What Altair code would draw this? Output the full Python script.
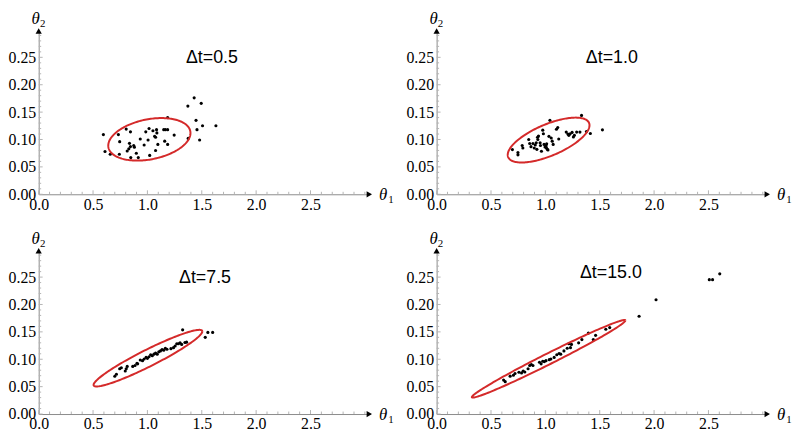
import altair as alt
import numpy as np
import pandas as pd

titles = ["Δt=0.5", "Δt=1.0", "Δt=7.5", "Δt=15.0"]

p1_x = [0.595, 0.61, 0.658, 0.733, 0.745, 0.742, 0.805, 0.844, 0.835, 0.844,
        0.829, 0.814, 0.874, 0.88, 0.847, 0.898, 0.916, 0.934, 0.97, 0.985,
        1.006, 1.015, 1.021, 1.051, 1.066, 1.075, 1.084, 1.087, 1.075, 1.096,
        1.15, 1.165, 1.186, 1.186, 1.159, 1.186, 1.246, 1.372, 1.43, 1.495,
        1.447, 1.456, 1.507, 1.48, 1.63, 1.375]
p1_y = [0.109, 0.078, 0.073, 0.109, 0.096, 0.073, 0.119, 0.114, 0.093, 0.087,
        0.083, 0.079, 0.089, 0.086, 0.067, 0.075, 0.067, 0.101, 0.09, 0.114,
        0.099, 0.12, 0.071, 0.116, 0.106, 0.08, 0.118, 0.112, 0.104, 0.091,
        0.118, 0.118, 0.118, 0.14, 0.097, 0.091, 0.108, 0.161, 0.176, 0.166,
        0.135, 0.118, 0.125, 0.099, 0.125, 0.102]

p2_x = [0.697, 0.748, 0.748, 0.787, 0.793, 0.847, 0.856, 0.868, 0.886, 0.898,
        0.907, 0.916, 0.922, 0.928, 0.931, 0.937, 0.952, 0.955, 0.964, 0.976,
        0.982, 0.988, 0.997, 1.006, 1.009, 1.012, 1.018, 1.024, 1.033, 1.042,
        1.054, 1.063, 1.072, 1.102, 1.114, 1.123, 1.192, 1.207, 1.216, 1.228,
        1.246, 1.258, 1.267, 1.288, 1.318, 1.333, 1.378, 1.414, 1.525]
p2_y = [0.0816, 0.0762, 0.072, 0.089, 0.0845, 0.0999, 0.0928, 0.0869, 0.0928, 0.0845,
        0.0899, 0.094, 0.082, 0.104, 0.0999, 0.1064, 0.094, 0.089, 0.0786, 0.117,
        0.1105, 0.091, 0.0863, 0.089, 0.0851, 0.0922, 0.082, 0.081, 0.1058, 0.135,
        0.1028, 0.097, 0.091, 0.1188, 0.1218, 0.101, 0.1135, 0.11, 0.1076, 0.1105,
        0.113, 0.1046, 0.1076, 0.1135, 0.1135, 0.144, 0.1147, 0.111, 0.1176]

p3_x = [0.70, 0.715, 0.745, 0.76, 0.796, 0.805, 0.814, 0.865, 0.886, 0.904,
        0.91, 0.934, 0.955, 0.97, 0.988, 1.0, 1.015, 1.03, 1.045, 1.06,
        1.075, 1.09, 1.105, 1.12, 1.135, 1.15, 1.165, 1.18, 1.216, 1.24,
        1.255, 1.27, 1.285, 1.30, 1.315, 1.324, 1.345, 1.36, 1.532, 1.556, 1.60]
p3_y = [0.069, 0.0727, 0.0827, 0.0845, 0.0786, 0.0827, 0.0869, 0.0869, 0.0887, 0.0928,
        0.0916, 0.0987, 0.0975, 0.1005, 0.1034, 0.1017, 0.1046, 0.1082, 0.1064, 0.1093,
        0.1111, 0.1093, 0.1135, 0.1152, 0.1176, 0.1164, 0.12, 0.1182, 0.1194, 0.1212,
        0.1241, 0.1283, 0.1283, 0.13, 0.1271, 0.1537, 0.1306, 0.1312, 0.14, 0.149, 0.149]

p4_x = [0.616, 0.631, 0.676, 0.706, 0.721, 0.757, 0.781, 0.796, 0.811, 0.841,
        0.856, 0.871, 0.886, 0.946, 0.961, 0.976, 0.991, 1.006, 1.036, 1.051,
        1.081, 1.105, 1.126, 1.141, 1.171, 1.201, 1.216, 1.231, 1.24, 1.306,
        1.336, 1.396, 1.441, 1.462, 1.556, 1.592, 1.862, 2.018, 2.508, 2.538, 2.604]
p4_y = [0.062, 0.0591, 0.0691, 0.0709, 0.0739, 0.0762, 0.0751, 0.0786, 0.0768, 0.0827,
        0.0887, 0.0904, 0.0887, 0.0946, 0.0916, 0.0963, 0.0957, 0.0975, 0.0993, 0.1005,
        0.1034, 0.1082, 0.1105, 0.1093, 0.1152, 0.12, 0.1283, 0.1212, 0.1271, 0.13,
        0.1359, 0.1478, 0.1359, 0.1436, 0.1548, 0.1578, 0.1785, 0.2086, 0.2453, 0.2453, 0.2559]

# confidence ellipse parameters per panel: centre and lower-triangular shape
ell_cx = [1.018, 1.03, 1.005, 1.03]
ell_cy = [0.1003, 0.099, 0.102, 0.1008]
ell_l11 = [0.378, 0.376, 0.50, 0.706]
ell_l21 = [0.0114, 0.027, 0.0488, 0.070]
ell_l22 = [0.0371, 0.0308, 0.017, 0.011]

x_major = [0.0, 0.5, 1.0, 1.5, 2.0, 2.5]
y_major = [0.0, 0.05, 0.10, 0.15, 0.20, 0.25]
x_minor = [0.1, 0.2, 0.3, 0.4, 0.6, 0.7, 0.8, 0.9, 1.1, 1.2, 1.3, 1.4, 1.6, 1.7, 1.8, 1.9,
           2.1, 2.2, 2.3, 2.4, 2.6, 2.7, 2.8, 2.9, 3.0]
y_minor = [0.01, 0.02, 0.03, 0.04, 0.06, 0.07, 0.08, 0.09, 0.11, 0.12, 0.13, 0.14,
           0.16, 0.17, 0.18, 0.19, 0.21, 0.22, 0.23, 0.24, 0.26, 0.27, 0.28, 0.29]

PX = [p1_x, p2_x, p3_x, p4_x]
PY = [p1_y, p2_y, p3_y, p4_y]

W, H = 335, 166
RED = "#d42a2a"
AXC = "#8c8c8c"
TICKC = "#b4b4b4"
SERIF = "Liberation Serif"
SANS = "Liberation Sans"
title_pos = [(175, 28), (177, 28), (168, 29), (176, 24)]

xs = alt.Scale(domain=[0, 3.05], nice=False, zero=False)
ys = alt.Scale(domain=[0, 0.30], nice=False, zero=False)

x_axis = alt.Axis(values=x_major, format=".1f", ticks=False, tickSize=0, grid=False,
                  domainColor=AXC, domainWidth=1, labelFont=SERIF, labelFontSize=16,
                  labelColor="black", labelPadding=2, labelFlush=False, labelOverlap=False,
                  title=None)
y_axis = alt.Axis(values=y_major, format=".2f", ticks=False, tickSize=0, grid=False,
                  domainColor=AXC, domainWidth=1, labelFont=SERIF, labelFontSize=16,
                  labelColor="black", labelPadding=3, labelFlush=False, labelOverlap=False,
                  title=None)


def X(f):
    return alt.X(f, scale=xs, axis=x_axis)


def Y(f):
    return alt.Y(f, scale=ys, axis=y_axis)


def panel(i):
    pts = pd.DataFrame({"a": PX[i], "b": PY[i]})
    t = np.linspace(0, 2 * np.pi, 181)
    ell = pd.DataFrame({
        "a": ell_cx[i] + ell_l11[i] * np.cos(t),
        "b": ell_cy[i] + ell_l21[i] * np.cos(t) + ell_l22[i] * np.sin(t),
        "k": np.arange(len(t)),
    })
    one = pd.DataFrame({"lab": [titles[i]]})

    points = alt.Chart(pts).mark_circle(size=10, color="black", opacity=1).encode(
        x=X("a:Q"), y=Y("b:Q"))
    ellipse = alt.Chart(ell).mark_line(color=RED, strokeWidth=2).encode(
        x=X("a:Q"), y=Y("b:Q"), order="k:Q")
    xmaj = alt.Chart(pd.DataFrame({"v": x_major})).mark_rule(color=TICKC, strokeWidth=1).encode(
        x=X("v:Q"), y=alt.value(H), y2=alt.value(H - 4))
    xmin = alt.Chart(pd.DataFrame({"v": x_minor})).mark_rule(color=TICKC, strokeWidth=1).encode(
        x=X("v:Q"), y=alt.value(H), y2=alt.value(H - 2.5))
    ymaj = alt.Chart(pd.DataFrame({"v": y_major})).mark_rule(color=TICKC, strokeWidth=1).encode(
        y=Y("v:Q"), x=alt.value(0), x2=alt.value(4))
    ymin = alt.Chart(pd.DataFrame({"v": y_minor})).mark_rule(color=TICKC, strokeWidth=1).encode(
        y=Y("v:Q"), x=alt.value(0), x2=alt.value(2.5))

    arrow_x = alt.Chart(one).mark_point(shape="triangle-right", filled=True, size=40,
                                        color="black", opacity=1).encode(
        x=alt.value(W - 1), y=alt.value(H))
    arrow_y = alt.Chart(one).mark_point(shape="triangle-up", filled=True, size=40,
                                        color="black", opacity=1).encode(
        x=alt.value(0), y=alt.value(1))

    tx, ty = title_pos[i]
    title = alt.Chart(one).mark_text(font=SANS, fontSize=18, color="black",
                                     align="center", baseline="middle").encode(
        x=alt.value(tx), y=alt.value(ty), text="lab:N")

    th = dict(font=SERIF, fontStyle="italic", fontSize=17, color="black",
              align="center", baseline="middle")
    sub = dict(font=SERIF, fontSize=11, color="black", align="center", baseline="middle")
    th1 = alt.Chart(one).mark_text(text="θ", **th).encode(x=alt.value(W + 13), y=alt.value(H + 1))
    th1s = alt.Chart(one).mark_text(text="1", **sub).encode(x=alt.value(W + 21), y=alt.value(H + 6))
    th2 = alt.Chart(one).mark_text(text="θ", **th).encode(x=alt.value(-3), y=alt.value(-11))
    th2s = alt.Chart(one).mark_text(text="2", **sub).encode(x=alt.value(4), y=alt.value(-6))

    return alt.layer(points, xmin, xmaj, ymin, ymaj, ellipse, arrow_x, arrow_y,
                     title, th1, th1s, th2, th2s).properties(width=W, height=H)


chart = alt.concat(
    panel(0), panel(1), panel(2), panel(3), columns=2,
    spacing={"row": 56, "column": 67}, bounds="flush",
).properties(padding=0, background="white").configure_view(stroke=None)

chart.save("out.html", embed_options={"renderer": "svg", "actions": False})
